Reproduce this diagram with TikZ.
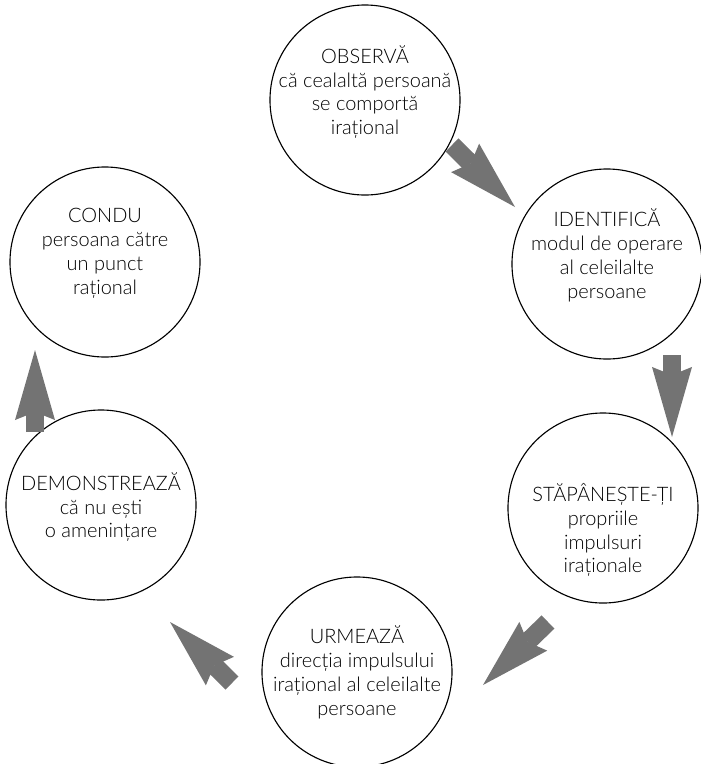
\documentclass[tikz,border=0pt]{standalone}
\usepackage{fontspec}
\setmainfont{Lato Light}
\usetikzlibrary{arrows.meta}

\tikzset{
  stepring/.style={circle, draw, line width=0.8pt, minimum size=4.75cm, inner sep=0pt},
  steptext/.style={align=center, font=\fontsize{14.2}{17}\selectfont, text=black},
  bigarrow/.style={draw=black!55, line width=0.46cm,
    -{Stealth[length=1.75cm, width=1cm, inset=0.2cm, line width=0pt]}}
}

\begin{document}
\begin{tikzpicture}[x=0.025cm, y=-0.025cm]
  \useasboundingbox (0,0) rectangle (700,764);
  % the six steps
  \node[stepring] (observa) at (365,100) {};
  \node[stepring] (identifica) at (607,264) {};
  \node[stepring] (stapaneste) at (603,508) {};
  \node[stepring] (urmeaza) at (357,672) {};
  \node[stepring] (demonstreaza) at (101,505) {};
  \node[stepring] (condu) at (105,262) {};
  % what goes in them
  \node[steptext, yshift=0.2cm] (observa-t) at (observa) {OBSERVĂ\\că cealaltă persoană\\se comportă\\irațional};
  \node[steptext, yshift=0.22cm] (identifica-t) at (identifica) {IDENTIFICĂ\\modul de operare\\al celeilalte\\persoane};
  \node[steptext, yshift=-0.55cm] (stapaneste-t) at (stapaneste) {STĂPÂNEȘTE-ȚI\\propriile\\impulsuri\\iraționale};
  \node[steptext] (urmeaza-t) at (urmeaza) {URMEAZĂ\\direcția impulsului\\irațional al celeilalte\\persoane};
  \node[steptext, yshift=-0.05cm] (demonstreaza-t) at (demonstreaza) {DEMONSTREAZĂ\\că nu ești\\o amenințare};
  \node[steptext, yshift=0.22cm] (condu-t) at (condu) {CONDU\\persoana către\\un punct\\rațional};
  % arrows between the circles
  \coordinate (a1) at (452,145); \coordinate (b1) at (515,207);
  \coordinate (a2) at (672,355); \coordinate (b2) at (672,437);
  \coordinate (a3) at (548,622); \coordinate (b3) at (483,685);
  \coordinate (a4) at (232,683); \coordinate (b4) at (170,622);
  \coordinate (a5) at (35,432);  \coordinate (b5) at (35,350);
  \foreach \i in {1,...,5}
    \draw[bigarrow] (a\i) -- (b\i);
\end{tikzpicture}
\end{document}
